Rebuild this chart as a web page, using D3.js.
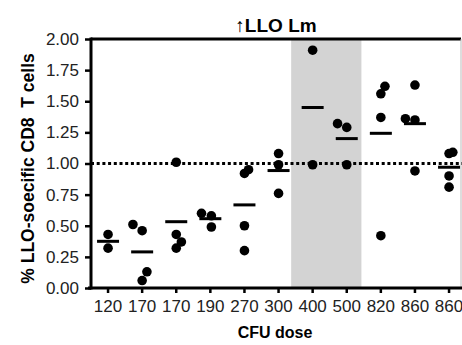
<!DOCTYPE html>
<html>
<head>
<meta charset="utf-8">
<script src="https://cdn.jsdelivr.net/npm/d3@7"></script>
<style>
  body { margin: 0; background: #fff; }
  svg { display: block; font-family: "Liberation Sans", Arial, Helvetica, sans-serif; }
</style>
</head>
<body>
<div id="chart"></div>
<script>
// dose labels (two repeat, so the scale is keyed by index)
const doseLabels = ['120', '170', '170', '190', '270', '300', '400', '500', '820', '860', '860'];

// % LLO-specific CD8 T cells, one array per mouse group
const groupValues = [
  [0.43, 0.32],
  [0.51, 0.46, 0.13, 0.06],
  [1.01, 0.43, 0.37, 0.32],
  [0.60, 0.58, 0.49],
  [0.95, 0.92, 0.50, 0.30],
  [1.08, 0.99, 0.76],
  [1.91, 0.99],
  [1.32, 1.29, 0.99],
  [1.62, 1.56, 1.37, 0.42],
  [1.63, 1.36, 1.35, 0.94],
  [1.09, 1.08, 0.90, 0.81]
];

// horizontal scatter of overlapping dots, in fractions of one category step
const groupJitter = [
  [0, 0],
  [-0.27, 0, 0.14, 0],
  [0, 0, 0.15, 0],
  [-0.26, 0.03, 0.03],
  [0.12, 0, 0, 0],
  [0, 0, 0],
  [0, 0],
  [-0.27, 0, 0],
  [0.12, 0, 0, 0],
  [0, -0.28, 0, 0],
  [0.11, 0, 0, 0]
];

const yTicks = [0, 0.25, 0.5, 0.75, 1, 1.25, 1.5, 1.75, 2];
const baseline = 1.0;
const shadedGroups = [6, 7];   // 400 and 500 CFU

const width = 462, height = 345;
const margin = { top: 39, right: 1, bottom: 57, left: 91 };

const svg = d3.select('#chart').append('svg')
  .attr('width', width)
  .attr('height', height);

const x = d3.scaleBand()
  .domain(d3.range(doseLabels.length))
  .range([margin.left, margin.left + 11 * 34.1])
  .padding(0);

const y = d3.scaleLinear()
  .domain([0, 2])
  .range([height - margin.bottom, margin.top]);

const step = x.step();
const cx = i => x(i) + step / 2;

// grey band behind the 400/500 groups
svg.append('rect')
  .attr('x', cx(shadedGroups[0]) - 0.63 * step)
  .attr('y', y(2))
  .attr('width', cx(shadedGroups[1]) + 0.43 * step - (cx(shadedGroups[0]) - 0.63 * step))
  .attr('height', y(0) - y(2))
  .attr('fill', '#d3d3d3');

// top frame and faint right edge
svg.append('line')
  .attr('x1', margin.left).attr('x2', width - margin.right)
  .attr('y1', y(2)).attr('y2', y(2))
  .attr('stroke', '#000').attr('stroke-width', 3);
svg.append('line')
  .attr('x1', width - margin.right).attr('x2', width - margin.right)
  .attr('y1', y(2)).attr('y2', y(0))
  .attr('stroke', '#bbb').attr('stroke-width', 1);

// dotted reference line at 1.00
svg.append('line')
  .attr('x1', margin.left).attr('x2', width)
  .attr('y1', y(baseline)).attr('y2', y(baseline))
  .attr('stroke', '#000')
  .attr('stroke-width', 3)
  .attr('stroke-dasharray', '3,2.7');

// Y axis
const yAxis = svg.append('g')
  .attr('transform', `translate(${margin.left},0)`)
  .call(d3.axisLeft(y).tickValues(yTicks).tickFormat(d3.format('.2f')).tickSize(6).tickPadding(6));
yAxis.select('.domain').attr('stroke-width', 3).attr('d', `M0,${y(2) - 1.5}V${y(0) + 1.5}`);
yAxis.selectAll('.tick line').attr('stroke-width', 2.5);
yAxis.selectAll('.tick text')
  .attr('font-size', 17)
  .attr('font-family', '"Liberation Sans", Arial, sans-serif')
  .attr('fill', '#222');

// X axis
const xAxis = svg.append('g')
  .attr('transform', `translate(0,${y(0)})`)
  .call(d3.axisBottom(x).tickFormat(i => doseLabels[i]).tickSize(5).tickPadding(7));
xAxis.select('.domain').attr('stroke-width', 3).attr('d', `M${margin.left - 3},0H${width}`);
xAxis.selectAll('.tick line').attr('stroke-width', 2.5);
xAxis.selectAll('.tick text')
  .attr('font-size', 17)
  .attr('font-family', '"Liberation Sans", Arial, sans-serif')
  .attr('fill', '#222');

// group mean bars
svg.append('g').selectAll('line')
  .data(groupValues)
  .join('line')
  .attr('x1', (d, i) => cx(i) - 11)
  .attr('x2', (d, i) => cx(i) + 11)
  .attr('y1', d => y(d3.mean(d)))
  .attr('y2', d => y(d3.mean(d)))
  .attr('stroke', '#000')
  .attr('stroke-width', 3);

// individual mice
const points = [];
groupValues.forEach((vals, i) => {
  vals.forEach((v, j) => points.push({ group: i, value: v, jit: groupJitter[i][j] }));
});

svg.append('g').selectAll('circle')
  .data(points)
  .join('circle')
  .attr('cx', d => cx(d.group) + d.jit * step)
  .attr('cy', d => y(d.value))
  .attr('r', 4.8)
  .attr('fill', '#000');

// title and axis titles
svg.append('text')
  .attr('x', 276).attr('y', 32)
  .attr('text-anchor', 'middle')
  .attr('font-size', 19)
  .attr('font-weight', 'bold')
  .text('\u2191LLO Lm');

svg.append('text')
  .attr('x', 275).attr('y', 338)
  .attr('text-anchor', 'middle')
  .attr('font-size', 16)
  .attr('font-weight', 'bold')
  .text('CFU dose');

svg.append('text')
  .attr('transform', 'translate(34,168.5) rotate(-90)')
  .attr('text-anchor', 'middle')
  .attr('font-size', 17.5)
  .attr('font-weight', 'bold')
  .style('white-space', 'pre')
  .text('% LLO-soecific CD8  T cells');
</script>
</body>
</html>
